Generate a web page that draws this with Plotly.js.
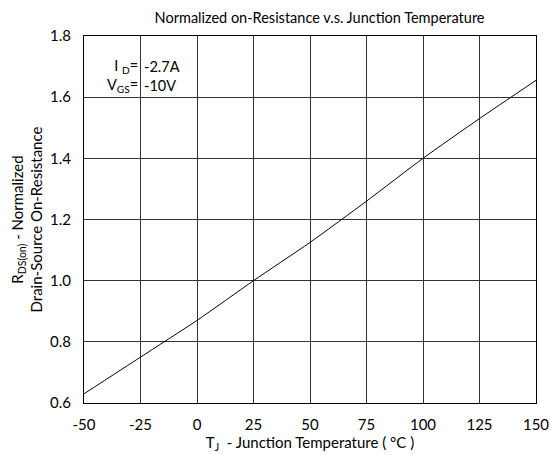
<!DOCTYPE html>
<html><head><meta charset="utf-8">
<script src="https://cdn.plot.ly/plotly-3.0.1.min.js"></script>
<style>body{margin:0;background:#fff}#chart{width:551px;height:455px}</style>
</head><body><div id="chart"></div>
<script>
var temperature = [-50, -25, 0, 25, 50, 75, 100, 125, 150];
var rdsOn = [0.63, 0.75, 0.87, 1.0, 1.125, 1.26, 1.40, 1.53, 1.655];
var xTicks = [-50, -25, 0, 25, 50, 75, 100, 125, 150];
var yTicks = [0.6, 0.8, 1.0, 1.2, 1.4, 1.6, 1.8];
var yTickText = ['0.6', '0.8', '1.0', '1.2', '1.4', '1.6', '1.8'];
var condLabels = ['I <sub>D</sub>=', 'V<sub>GS</sub>='];
var condValues = ['-2.7A', '-10V'];

var fam = 'Lato, "Liberation Sans", sans-serif';
var font = {family: fam, size: 15, color: '#000'};
var annFont = {family: fam, size: 14.5, color: '#000'};
Plotly.newPlot('chart', [{
  x: temperature, y: rdsOn, mode: 'lines', line: {color: '#000', width: 1, shape: 'spline', smoothing: 0.6},
  hoverinfo: 'none'
}], {
  width: 551, height: 455,
  margin: {l: 84, r: 15, t: 36, b: 52},
  paper_bgcolor: '#fff', plot_bgcolor: '#fff',
  font: font, showlegend: false,
  title: {text: 'Normalized on-Resistance v.s. Junction Temperature', font: {family: fam, size: 14.5, color: '#000'}, x: 0.58, xanchor: 'center', y: 0.96, yanchor: 'middle'},
  xaxis: {range: [-50, 150], tickvals: xTicks, ticktext: xTicks.map(String), showgrid: true, gridcolor: '#333', gridwidth: 1,
    showline: true, linecolor: '#000', linewidth: 1, mirror: true, ticks: 'outside', ticklen: 8, tickcolor: 'rgba(0,0,0,0)', zeroline: false, tickfont: font,
    title: {text: 'T<sub>J</sub>  - Junction Temperature ( °C )', font: font, standoff: 2}},
  yaxis: {range: [0.6, 1.8], tickvals: yTicks, ticktext: yTickText, showgrid: true, gridcolor: '#333', gridwidth: 1,
    showline: true, linecolor: '#000', linewidth: 1, mirror: true, ticks: 'outside', ticklen: 9, tickcolor: 'rgba(0,0,0,0)', zeroline: false, tickfont: font,
    title: {text: 'R<sub>DS(on)</sub> - Normalized<br>Drain-Source On-Resistance', font: font, standoff: 3}},
  annotations: [
    {xref: 'x', yref: 'y', x: -25, y: 1.67, text: condLabels.join('<br>'), align: 'right', showarrow: false, xanchor: 'right', yanchor: 'middle', xshift: -1, font: annFont},
    {xref: 'x', yref: 'y', x: -25, y: 1.67, text: condValues.join('<br>'), align: 'left', showarrow: false, xanchor: 'left', yanchor: 'middle', xshift: 1, font: annFont}
  ]
}, {staticPlot: true});
</script></body></html>
